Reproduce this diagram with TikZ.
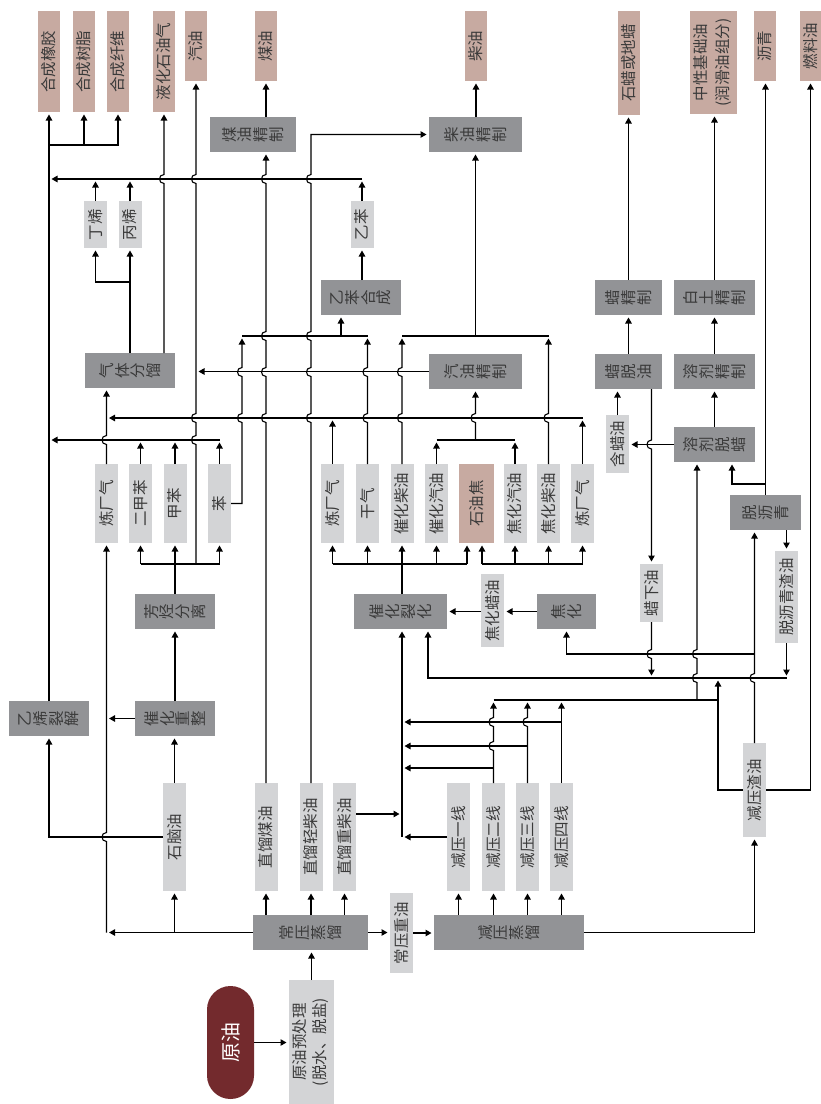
\documentclass[tikz,border=0pt]{standalone}
\usepackage{graphicx}
\usepackage{fontspec}
\setmainfont{Noto Sans CJK SC}
\usetikzlibrary{arrows.meta, positioning, calc}
\definecolor{prodBrown}{RGB}{199,170,161}
\definecolor{midGray}{RGB}{211,212,214}
\definecolor{procGray}{RGB}{146,147,150}
\definecolor{txtDark}{RGB}{58,58,58}
\definecolor{crudeRed}{RGB}{115,42,45}
\newcommand{\vt}[1]{\rotatebox{90}{#1}}
% stacked characters, one per row, turned with the box
\newcommand{\vs}[1]{\rotatebox{90}{\vbox{\baselineskip=15.8pt\lineskiplimit=-50pt\halign{\hfil##\hfil\cr#1\crcr}}}}
% bridge of a vertical line over a horizontal one (line drawn upwards / downwards)
\newcommand{\hop}[2]{-- (#1,#2+4.5) .. controls (#1-6,#2+4.5) and (#1-6,#2-4.5) .. (#1,#2-4.5)}
\newcommand{\hopd}[2]{-- (#1,#2-4.5) .. controls (#1-6,#2-4.5) and (#1-6,#2+4.5) .. (#1,#2+4.5)}

\begin{document}
\begin{tikzpicture}[x=1pt, y=-1pt,
  box/.style={inner sep=0pt, outer sep=0pt, text=txtDark, font=\fontsize{15.5}{16}\selectfont},
  prod/.style={box, fill=prodBrown, minimum width=22pt},
  tallp/.style={prod, minimum height=101pt},
  shortp/.style={prod, minimum height=70pt},
  strm/.style={box, fill=midGray, minimum width=23pt},
  proc/.style={box, fill=procGray, minimum height=35pt},
  arr/.style={-{Triangle[length=6pt,width=6.5pt]}, shorten >=2.5pt},
  every path/.style={line width=1.1pt}]
\useasboundingbox (0,0) rectangle (821,1104);

% products
\node[tallp] (xjj) at (49,61.5) {\vt{合成橡胶}};
\node[tallp] (hcsz) at (84,61.5) {\vt{合成树脂}};
\node[tallp] (hcxw) at (118,61.5) {\vt{合成纤维}};
\node[tallp] (yhq) at (164,61.5) {\vt{液化石油气}};
\node[shortp] (qy) at (196,46) {\vt{汽油}};
\node[shortp] (my) at (266,46) {\vt{煤油}};
\node[shortp] (cy) at (476,46) {\vt{柴油}};
\node[prod, minimum height=104pt] (sl) at (629,63) {\vt{石蜡或地蜡}};
\node[prod, minimum width=47pt, minimum height=103pt] (jcy) at (713.5,62.5)
  {\vt{\begin{tabular}{@{}c@{}}中性基础油\\[4pt](润滑油组分)\end{tabular}}};
\node[shortp] (lq) at (765,46) {\vt{沥青}};
\node[shortp, minimum width=21pt] (rly) at (810.5,46) {\vt{燃料油}};
\node[prod, minimum width=35pt, minimum height=79pt] (syj) at (476.5,503.5) {\vt{石油焦}};

% intermediate streams
\node[strm, minimum height=47pt] (dx) at (95.5,224.5) {\vt{丁烯}};
\node[strm, minimum height=47pt] (bx) at (130,224.5) {\vt{丙烯}};
\node[strm, minimum height=47pt] (yb) at (362,224.5) {\vt{乙苯}};
\node[strm, minimum height=79pt] (lcqA) at (106.5,503.5) {\vt{炼厂气}};
\node[strm, minimum height=79pt] (ejb) at (140.5,503.5) {\vt{二甲苯}};
\node[strm, minimum height=79pt] (jb) at (175,503.5) {\vt{甲苯}};
\node[strm, minimum height=79pt] (ben) at (219.5,503.5) {\vt{苯}};
\node[strm, minimum height=79pt] (lcqB) at (332.5,503.5) {\vt{炼厂气}};
\node[strm, minimum height=79pt] (gq) at (367.5,503.5) {\vt{干气}};
\node[strm, minimum height=79pt] (chcy) at (402,503.5) {\vt{催化柴油}};
\node[strm, minimum height=79pt] (chqy) at (436.5,503.5) {\vt{催化汽油}};
\node[strm, minimum height=79pt] (jhqy) at (515,503.5) {\vt{焦化汽油}};
\node[strm, minimum height=79pt] (jhcy) at (548.5,503.5) {\vt{焦化柴油}};
\node[strm, minimum height=79pt] (lcqC) at (582.5,503.5) {\vt{炼厂气}};
\node[strm, minimum height=58pt] (hly) at (617.5,444) {\vt{含蜡油}};
\node[strm, minimum height=58pt] (lxy) at (651.5,593) {\vt{蜡下油}};
\node[strm, minimum height=92pt] (tlqz) at (786.5,597) {\vt{脱沥青渣油}};
\node[strm, minimum height=73pt] (jhly) at (492.5,610.5) {\vt{焦化蜡油}};
\node[strm, minimum height=108pt] (snY) at (174.5,837) {\vt{石脑油}};
\node[strm, minimum height=108pt] (zlmy) at (266,837) {\vt{直馏煤油}};
\node[strm, minimum height=108pt] (zlqc) at (311,837) {\vt{直馏轻柴油}};
\node[strm, minimum height=108pt] (zlzc) at (344.5,837) {\vt{直馏重柴油}};
\node[strm, minimum height=108pt] (jy1) at (458.5,837) {\vt{减压一线}};
\node[strm, minimum height=108pt] (jy2) at (493.5,837) {\vt{减压二线}};
\node[strm, minimum height=108pt] (jy3) at (527.5,837) {\vt{减压三线}};
\node[strm, minimum height=108pt] (jy4) at (561.5,837) {\vt{减压四线}};
\node[strm, minimum height=94pt] (jyzy) at (754.5,790) {\vt{减压渣油}};
\node[strm, minimum height=80pt] (cyzy) at (401.5,933) {\vt{常压重油}};
\node[strm, minimum width=45pt, minimum height=124pt] (yycl) at (311.5,1042)
  {\vt{\begin{tabular}{@{}c@{}}原油预处理\\[2pt](脱水、脱盐)\end{tabular}}};

% process units
\node[proc, minimum width=86pt] (myjz) at (253,134.5) {\vs{煤\cr 油\cr 精\cr 制}};
\node[proc, minimum width=93pt] (cyjz) at (475.5,134.5) {\vs{柴\cr 油\cr 精\cr 制}};
\node[proc, minimum width=80pt] (ybhc) at (361,297.5) {\vs{乙\cr 苯\cr 合\cr 成}};
\node[proc, minimum width=67pt] (ljz) at (628.5,297.5) {\vs{蜡\cr 精\cr 制}};
\node[proc, minimum width=81pt] (btjz) at (714.5,297.5) {\vs{白\cr 土\cr 精\cr 制}};
\node[proc, minimum width=90pt] (qtfl) at (130,370.5) {\vs{气\cr 体\cr 分\cr 馏}};
\node[proc, minimum width=93pt] (qyjz) at (475.5,371.5) {\vs{汽\cr 油\cr 精\cr 制}};
\node[proc, minimum width=67pt] (lty) at (628.5,371.5) {\vs{蜡\cr 脱\cr 油}};
\node[proc, minimum width=81pt] (rjjz) at (714.5,371.5) {\vs{溶\cr 剂\cr 精\cr 制}};
\node[proc, minimum width=81pt] (rjtl) at (714.5,444.5) {\vs{溶\cr 剂\cr 脱\cr 蜡}};
\node[proc, minimum width=71pt] (tlq) at (765.5,512.5) {\vs{脱\cr 沥\cr 青}};
\node[proc, minimum width=80pt] (ftfl) at (175,611.5) {\vs{芳\cr 烃\cr 分\cr 离}};
\node[proc, minimum width=93pt] (chlh) at (400.5,611.5) {\vs{催\cr 化\cr 裂\cr 化}};
\node[proc, minimum width=59pt] (jh) at (566.5,611.5) {\vs{焦\cr 化}};
\node[proc, minimum width=80pt] (yxlj) at (49,718.5) {\vs{乙\cr 烯\cr 裂\cr 解}};
\node[proc, minimum width=80pt] (chcz) at (175,718.5) {\vs{催\cr 化\cr 重\cr 整}};
\node[proc, minimum width=115pt] (cyzl) at (310.5,932.5) {\vs{常\cr 压\cr 蒸\cr 馏}};
\node[proc, minimum width=150pt] (jyzl) at (509,932.5) {\vs{减\cr 压\cr 蒸\cr 馏}};
\node[box, fill=crudeRed, text=white, minimum width=47pt, minimum height=113pt,
  rounded corners=23.5pt, font=\fontsize{20}{22}\selectfont] (yy) at (230.5,1042.5) {\vt{原油}};

% junctions
\coordinate (c145) at (49,145);
\coordinate (c179) at (362,179);
\coordinate (c282) at (130,282);
\coordinate (c336a) at (341,336);
\coordinate (c336L) at (242,336);
\coordinate (c336b) at (475.5,336);
\coordinate (c418) at (582.5,418);
\coordinate (c440a) at (219.5,440);
\coordinate (c440b) at (475.5,440);
\coordinate (c484) at (765.5,484);
\coordinate (c564a) at (175,564);
\coordinate (c564b) at (402,564);
\coordinate (syjL) at (467,564);
\coordinate (syjR) at (482,564);
\coordinate (c654) at (754.5,654);
\coordinate (c678) at (428,678);
\coordinate (c718) at (718,678);
\coordinate (c700) at (697,700);
\coordinate (c722) at (402,722);
\coordinate (c746) at (402,746);
\coordinate (c768) at (402,768);
\coordinate (c837) at (402,837);

% crude and atmospheric column
\draw[arr] (yy.east) -- (yy.east -| yycl.west);
\draw[arr] (yycl.north) -- (yycl.north |- cyzl.south);
\foreach \n in {zlmy,zlqc,zlzc} \draw[arr] (\n.south |- cyzl.north) -- (\n.south);
\draw[arr] (cyzl.east) -- (cyzl.east -| cyzy.west);
\draw[arr] (cyzy.east) -- (cyzy.east -| jyzl.west);
\draw[arr] (cyzl.west) -- (cyzl.west -| lcqA.south);
\draw[arr] (lcqA.south |- cyzl.west) \hop{106.5}{837} -- (lcqA.south);
\draw[arr] (snY.south |- cyzl.west) -- (snY.south);

% naphtha
\draw[arr] (snY.north) -- (snY.north |- chcz.south);
\draw[arr] (snY.west) -| (yxlj.south);
\draw[arr] (chcz.north) -- (ftfl.south);
\draw[arr] (chcz.west) -- (chcz.west -| lcqA.south);
\draw[arr] (yxlj.north) -- (xjj.south);
\draw[arr] (c145) -| (hcxw.south);
\draw[arr] (c145 -| hcsz.south) -- (hcsz.south);

% aromatics
\draw[arr] (ftfl.north) -- (jb.south);
\draw (ejb.south |- c564a) -- (ben.south |- c564a);
\foreach \n in {ejb,ben} \draw[arr] (\n.south |- c564a) -- (\n.south);
\draw[arr] (qy.south |- c564a) \hop{196}{440} \hop{196}{418} \hop{196}{179} -- (qy.south);
\foreach \n in {ejb,jb,ben} \draw[arr] (\n.north) -- (\n.north |- c440a);
\draw[arr] (c440a) -- (c440a -| xjj.south);
\draw[arr] (ben.east) -- (ben.east -| c336L) \hop{242}{418} \hop{242}{372} -- (c336L);

% gas plant
\draw[arr] (lcqA.north) \hop{106.5}{440} -- (lcqA.north |- qtfl.south);
\draw[arr] (bx.south |- qtfl.north) -- (bx.south);
\draw[arr] (c282) -| (dx.south);
\draw[arr] (yhq.south |- qtfl.north) \hop{164}{179} -- (yhq.south);
\foreach \n in {dx,bx} \draw[arr] (\n.north) -- (\n.north |- c179);
\draw[arr] (yb.north) -- (c179);
\draw[arr] (c179) -- (c179 -| xjj.south);
\draw[arr] (lcqC.north) -- (c418);
\draw[arr] (lcqB.north) -- (lcqB.north |- c418);
\draw[arr] (c418) -- (c418 -| lcqA.north);

% ethylbenzene
\draw[arr] (gq.north) \hop{367.5}{418} \hop{367.5}{372} -- (gq.north |- c336L);
\draw (c336L) -- (gq.north |- c336L);
\draw[arr] (c336a) -- (c336a |- ybhc.south);
\draw[arr] (yb.south |- ybhc.north) -- (yb.south);

% kerosene and diesel
\draw[arr] (zlmy.north) \hop{266}{418} \hop{266}{372} \hop{266}{336} \hop{266}{179} -- (zlmy.north |- myjz.south);
\draw[arr] (my.south |- myjz.north) -- (my.south);
\draw[arr] (zlqc.north) \hop{311}{418} \hop{311}{372} \hop{311}{336} \hop{311}{179} -- (zlqc.north |- cyjz.west) -- (cyjz.west);
\draw[arr] (cy.south |- cyjz.north) -- (cy.south);
\draw[arr] (chcy.north) \hop{402}{418} \hop{402}{372} -- (chcy.north |- c336b);
\draw[arr] (jhcy.north) \hop{548.5}{418} -- (jhcy.north |- c336b);
\draw (chcy.north |- c336b) -- (jhcy.north |- c336b);
\draw[arr] (c336b) -- (c336b |- cyjz.south);

% gasoline
\foreach \n in {chqy,jhqy} \draw[arr] (\n.north) -- (\n.north |- c440b);
\draw (chqy.north |- c440b) -- (jhqy.north |- c440b);
\draw[arr] (c440b) \hop{475.5}{418} -- (c440b |- qyjz.south);
\draw[arr] (qyjz.west) -- (qyjz.west -| qy.south);

% cracking and coking products
\draw[arr] (c564b |- chlh.north) -- (chcy.south);
\draw (lcqB.south |- c564b) -- (syjL);
\foreach \n in {lcqB,gq,chqy} \draw[arr] (\n.south |- c564b) -- (\n.south);
\draw[arr] (syjL) -- (syjL |- syj.south);
\draw (syjR) -- (lcqC.south |- syjR);
\draw[arr] (syjR) -- (syjR |- syj.south);
\foreach \n in {jhqy,jhcy,lcqC} \draw[arr] (\n.south |- syjR) -- (\n.south);
\draw[arr] (jh.west) -- (jh.west -| jhly.east);
\draw[arr] (jhly.west |- jh.west) -- (jh.west -| chlh.east);

% vacuum column
\foreach \n in {jy1,jy2,jy3,jy4} \draw[arr] (\n.south |- jyzl.north) -- (\n.south);
\draw[arr] (jyzl.east) -| (jyzy.south);
\draw[arr] (jy1.west) -- (c837);
\draw[arr] ([yshift=23pt]zlzc.east) -- ([yshift=23pt]zlzc.east -| c837);
\draw[arr] (c837) -- (c837 |- chlh.south);
\draw[arr] (jy2.north) \hop{493.5}{746} \hop{493.5}{722} -- (jy2.north |- c700);
\draw[arr] (jy3.north) \hop{527.5}{722} -- (jy3.north |- c700);
\draw[arr] (jy4.north) -- (jy4.north |- c700);
\draw[arr] (jy4.north |- c722) -- (c722);
\draw[arr] (jy3.north |- c746) -- (c746);
\draw[arr] (jy2.north |- c768) -- (c768);
\draw (jy2.north |- c700) -- (c718 |- c700);
\draw[arr] (c700) \hop{697}{678} \hop{697}{654} -- (c700 |- rjtl.south);

% residue
\draw[arr] (jyzy.west) -| (c718);
\draw[arr] (jyzy.east) -| (rly.south);
\draw[arr] (jyzy.north) \hop{754.5}{678} -- (jyzy.north |- tlq.south);
\draw[arr] (c654) -| (jh.south);
\draw[arr] (tlqz.north |- tlq.south) -- (tlqz.north);
\draw[arr] (tlqz.south) -- (tlqz.south |- c678);
\draw[arr] (tlqz.south |- c678) -- (c678) -- (c678 |- chlh.south);
\draw[arr] (tlq.north) -- (tlq.north |- lq.south);
\draw[arr] (c484) -| ([xshift=17.5pt]rjtl.south);

% lube and wax
\draw[arr] (rjtl.north) -- (rjjz.south);
\draw[arr] (rjjz.north) -- (btjz.south);
\draw[arr] (btjz.north) -- (btjz.north |- jcy.south);
\draw[arr] (rjtl.west) -- (rjtl.west -| hly.east);
\draw[arr] (hly.north) -- (hly.north |- lty.south);
\draw[arr] (lty.north) -- (ljz.south);
\draw[arr] (ljz.north) -- (ljz.north |- sl.south);
\draw[arr] (lxy.north |- lty.south) \hopd{651.5}{444.5} -- (lxy.north);
\draw[arr] (lxy.south) \hopd{651.5}{654} -- (lxy.south |- c678);
\end{tikzpicture}
\end{document}
